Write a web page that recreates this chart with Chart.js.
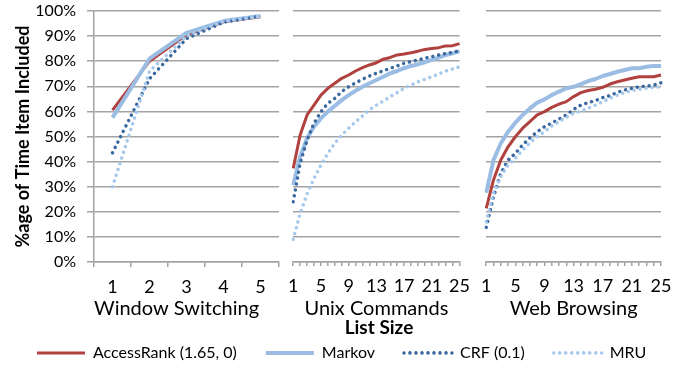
<!DOCTYPE html>
<html>
<head>
<meta charset="utf-8">
<script src="https://cdn.jsdelivr.net/npm/chart.js@4.4.1/dist/chart.umd.min.js"></script>
<style>
  html, body { margin: 0; padding: 0; background: #fff; width: 689px; height: 371px; overflow: hidden; }
  canvas { position: absolute; }
</style>
</head>
<body>
<canvas id="win" width="280" height="330" style="left:0;top:0"></canvas>
<canvas id="unix" width="200" height="371" style="left:279px;top:0"></canvas>
<canvas id="web" width="217" height="330" style="left:472px;top:0"></canvas>
<canvas id="legend" width="681" height="121" style="left:8px;top:250px"></canvas>
<script>
// categories
const windowSizes = [1, 2, 3, 4, 5];
const listSizes = [1, 2, 3, 4, 5, 6, 7, 8, 9, 10, 11, 12, 13, 14, 15, 16, 17, 18, 19, 20, 21, 22, 23, 24, 25];
const yTicks = [0, 10, 20, 30, 40, 50, 60, 70, 80, 90, 100];

const seriesNames = ["AccessRank (1.65, 0)", "Markov", "CRF (0.1)", "MRU"];

// Window Switching (%)
const winAccessRank = [60.5, 80, 90.5, 95.7, 97.7];
const winMarkov = [57.5, 81, 91.3, 96, 98];
const winCRF = [43.5, 73, 89, 95.5, 98];
const winMRU = [30, 76, 90, 96, 98];

// Unix Commands (%)
const unixAccessRank = [37.3, 50.6, 58.6, 62.5, 66.5, 69.2, 71.2, 73.2, 74.5, 76.1, 77.4, 78.5, 79.4, 80.8, 81.5, 82.5, 82.9, 83.4, 84.0, 84.7, 85.1, 85.4, 86.1, 86.2, 87.0];
const unixMarkov = [30.7, 42.0, 49.3, 53.9, 57.2, 59.9, 62.2, 64.5, 66.5, 68.2, 69.8, 71.2, 72.5, 73.8, 75.2, 76.1, 77.2, 78.1, 78.8, 79.6, 80.5, 81.4, 82.5, 83.1, 84.0];
const unixCRF = [24.0, 39.3, 48.6, 55.3, 59.9, 63.2, 65.2, 67.9, 69.8, 71.4, 72.8, 74.1, 75.2, 76.2, 77.2, 78.1, 79.2, 79.8, 80.5, 81.2, 81.8, 82.5, 83.1, 83.5, 84.2];
const unixMRU = [9.0, 19.4, 27.1, 33.3, 38.6, 43.3, 47.3, 50.6, 53.3, 55.9, 58.2, 60.6, 62.5, 64.1, 65.9, 67.5, 69.2, 70.5, 71.8, 72.8, 73.8, 74.9, 76.1, 76.9, 77.8];

// Web Browsing (%)
const webAccessRank = [21.4, 32.7, 40.6, 45.9, 49.9, 53.3, 55.9, 58.6, 59.9, 61.6, 62.9, 63.9, 65.9, 67.5, 68.3, 68.8, 69.6, 70.9, 71.8, 72.5, 73.2, 73.8, 73.8, 73.8, 74.5];
const webMarkov = [27.6, 40.6, 47.3, 51.9, 55.5, 58.6, 61.2, 63.5, 64.8, 66.5, 67.9, 69.2, 69.8, 70.9, 72.1, 72.9, 74.1, 74.9, 75.8, 76.5, 77.2, 77.2, 77.8, 78.1, 78.1];
const webCRF = [13.8, 26.0, 35.3, 40.6, 43.3, 46.6, 49.5, 51.9, 53.9, 55.3, 56.9, 58.6, 60.8, 62.5, 63.5, 64.3, 65.5, 66.3, 67.6, 68.5, 69.2, 69.8, 70.1, 70.5, 71.4];
const webMRU = [16.0, 27.4, 34.0, 38.6, 41.3, 44.6, 47.5, 49.9, 51.9, 54.2, 55.9, 57.6, 59.2, 60.2, 61.2, 62.5, 63.9, 65.2, 66.5, 67.5, 68.3, 68.8, 69.2, 69.6, 69.8];

// styles
const FONT = "Lato, 'Open Sans', sans-serif";
const GRID = "#a3a3a3";
const lineColors = ["#b0413e", "#9bbde4", "#3a69a0", "#a6c8ec"];
const lineWidths = [3, 4, 3.5, 3.5];
const lineDashes = [[], [], [0.01, 6], [0.01, 6]];

function makeSets(values) {
  return values.map((v, i) => ({
    label: seriesNames[i],
    data: v,
    borderColor: lineColors[i],
    backgroundColor: lineColors[i],
    borderWidth: lineWidths[i],
    borderDash: lineDashes[i],
    borderCapStyle: lineDashes[i].length ? "round" : "butt",
    borderJoinStyle: "round",
    pointRadius: 0,
    tension: 0,
    fill: false
  }));
}

function panel(id, labels, values, cfg) {
  const first = cfg.first;
  // AccessRank underneath, MRU on top
  const sets = makeSets(values).map((d, i) => Object.assign(d, { order: 4 - i }));
  return new Chart(document.getElementById(id), {
    type: "line",
    data: { labels: labels, datasets: sets },
    options: {
      responsive: false,
      animation: false,
      events: [],
      layout: { padding: cfg.padding },
      plugins: {
        legend: { display: false },
        tooltip: { enabled: false },
        title: cfg.title || { display: false }
      },
      scales: {
        x: {
          offset: first,
          afterFit: s => { s.height = cfg.xHeight; },
          grid: { drawOnChartArea: false, drawTicks: true, tickLength: first ? 5 : 4, offset: first, color: GRID, lineWidth: 1.5 },
          border: { display: true, color: GRID, width: 1.5 },
          ticks: {
            autoSkip: false, maxRotation: 0, color: "#000", padding: 9,
            font: { family: FONT, size: 18 },
            callback: function (val, i) { return (first || i % 4 === 0) ? this.getLabelForValue(val) : ""; }
          },
          title: { display: true, text: cfg.name, align: first ? "start" : "center", color: "#000", font: { family: FONT, size: 20, lineHeight: 1 }, padding: { top: 0, bottom: cfg.titlePad } }
        },
        y: {
          min: 0, max: 100,
          afterBuildTicks: s => { s.ticks = yTicks.map(v => ({ value: v })); },
          afterFit: s => { s.width = first ? 94 : 0; s.paddingTop = 0; s.paddingBottom = 0; },
          grid: { color: GRID, lineWidth: 1.5, drawTicks: first, tickLength: 7 },
          border: { display: first, color: GRID, width: 1.5 },
          ticks: { display: first, color: "#000", padding: 11, font: { family: FONT, size: 16 }, callback: v => v + "%" },
          title: { display: first, text: "%age of Time Item Included", color: "#000", font: { family: FONT, size: 18, weight: "bold" }, padding: { top: 12 } }
        }
      }
    }
  });
}

panel("win", windowSizes, [winAccessRank, winMarkov, winCRF, winMRU],
  { first: true, name: "Window Switching", xHeight: 68, titlePad: 11, padding: { left: 0, right: 1, top: 11, bottom: 0 } });

panel("unix", listSizes, [unixAccessRank, unixMarkov, unixCRF, unixMRU],
  { first: false, name: "Unix Commands", xHeight: 57, titlePad: 0, padding: { left: 10, right: 10, top: 11, bottom: 0 },
    title: { display: true, text: "List Size", position: "bottom", color: "#000", font: { family: FONT, size: 19, weight: "bold", lineHeight: 0.9 }, padding: { top: 0, bottom: 34.9 } } });

panel("web", listSizes, [webAccessRank, webMarkov, webCRF, webMRU],
  { first: false, name: "Web Browsing", xHeight: 68, titlePad: 11, padding: { left: 10, right: 28, top: 11, bottom: 0 } });

// legend only chart
new Chart(document.getElementById("legend"), {
  type: "line",
  data: { labels: [], datasets: makeSets([[], [], [], []]).map(d => Object.assign(d, { borderJoinStyle: "bevel" })) },
  options: {
    responsive: false,
    animation: false,
    events: [],
    scales: { x: { display: false }, y: { display: false } },
    plugins: {
      tooltip: { enabled: false },
      legend: {
        position: "bottom",
        align: "start",
        labels: { boxWidth: 48, boxHeight: 0, padding: 29, color: "#000", font: { family: FONT, size: 16 } }
      }
    }
  }
});
</script>
</body>
</html>
